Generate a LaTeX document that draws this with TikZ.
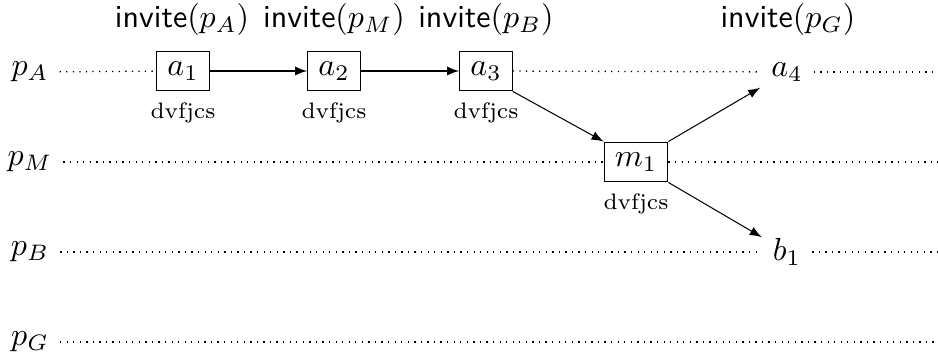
\documentclass[tikz,border=0pt]{standalone}
\usetikzlibrary{arrows}
\begin{document}
\begin{tikzpicture}[x=0.3125pt,y=-0.3125pt,line width=0.32pt,
  evbox/.style={draw,inner sep=3.33pt},
  evpt/.style={inner sep=3.33pt},
  lane/.style={line width=0.4pt,dash pattern=on 0.4pt off 1.65pt},
  msg/.style={-latex},
  ev/.style={label={[inner sep=3.33pt]below:{\scriptsize dvfjcs}}},
  inv/.style={inner sep=0pt}]
\useasboundingbox (0,0) rectangle (938,356);
% lane labels
\node (pA) at (30,72) {$p_A$};
\node (pM) at (30,162) {$p_M$};
\node (pB) at (30,252) {$p_B$};
\node (pG) at (30,342) {$p_G$};
\coordinate (eA) at (938,72);
\coordinate (eM) at (938,162);
\coordinate (eB) at (938,252);
\coordinate (eG) at (938,342);
% events
\node[evbox,ev] (a1) at (183,71) {$a_1$};
\node[evbox,ev] (a2) at (334,71) {$a_2$};
\node[evbox,ev] (a3) at (486,71) {$a_3$};
\node[evpt] (a4) at (787,72) {$a_4$};
\node[evbox,ev] (m1) at (636,162) {$m_1$};
\node[evpt] (b1) at (787,252) {$b_1$};
% invite labels
\node[inv] (i1) at (182,20) {\textsf{invite}$(p_A)$};
\node[inv] (i2) at (334,20) {\textsf{invite}$(p_M)$};
\node[inv] (i3) at (486,20) {\textsf{invite}$(p_B)$};
\node[inv] (i4) at (788,20) {\textsf{invite}$(p_G)$};
% lanes
\draw[lane] (pA) -- (a1);
\draw[lane] (a3) -- (a4);
\draw[lane] (a4) -- (eA);
\draw[lane] (pM) -- (m1);
\draw[lane] (m1) -- (eM);
\draw[lane] (pB) -- (b1);
\draw[lane] (b1) -- (eB);
\draw[lane] (pG) -- (eG);
% messages
\draw[msg] (a1) -- (a2);
\draw[msg] (a2) -- (a3);
\draw[msg] (a3.south east) -- (m1.north west);
\draw[msg] (m1.north east) -- (a4);
\draw[msg] (m1.south east) -- (b1);
\end{tikzpicture}
\end{document}
